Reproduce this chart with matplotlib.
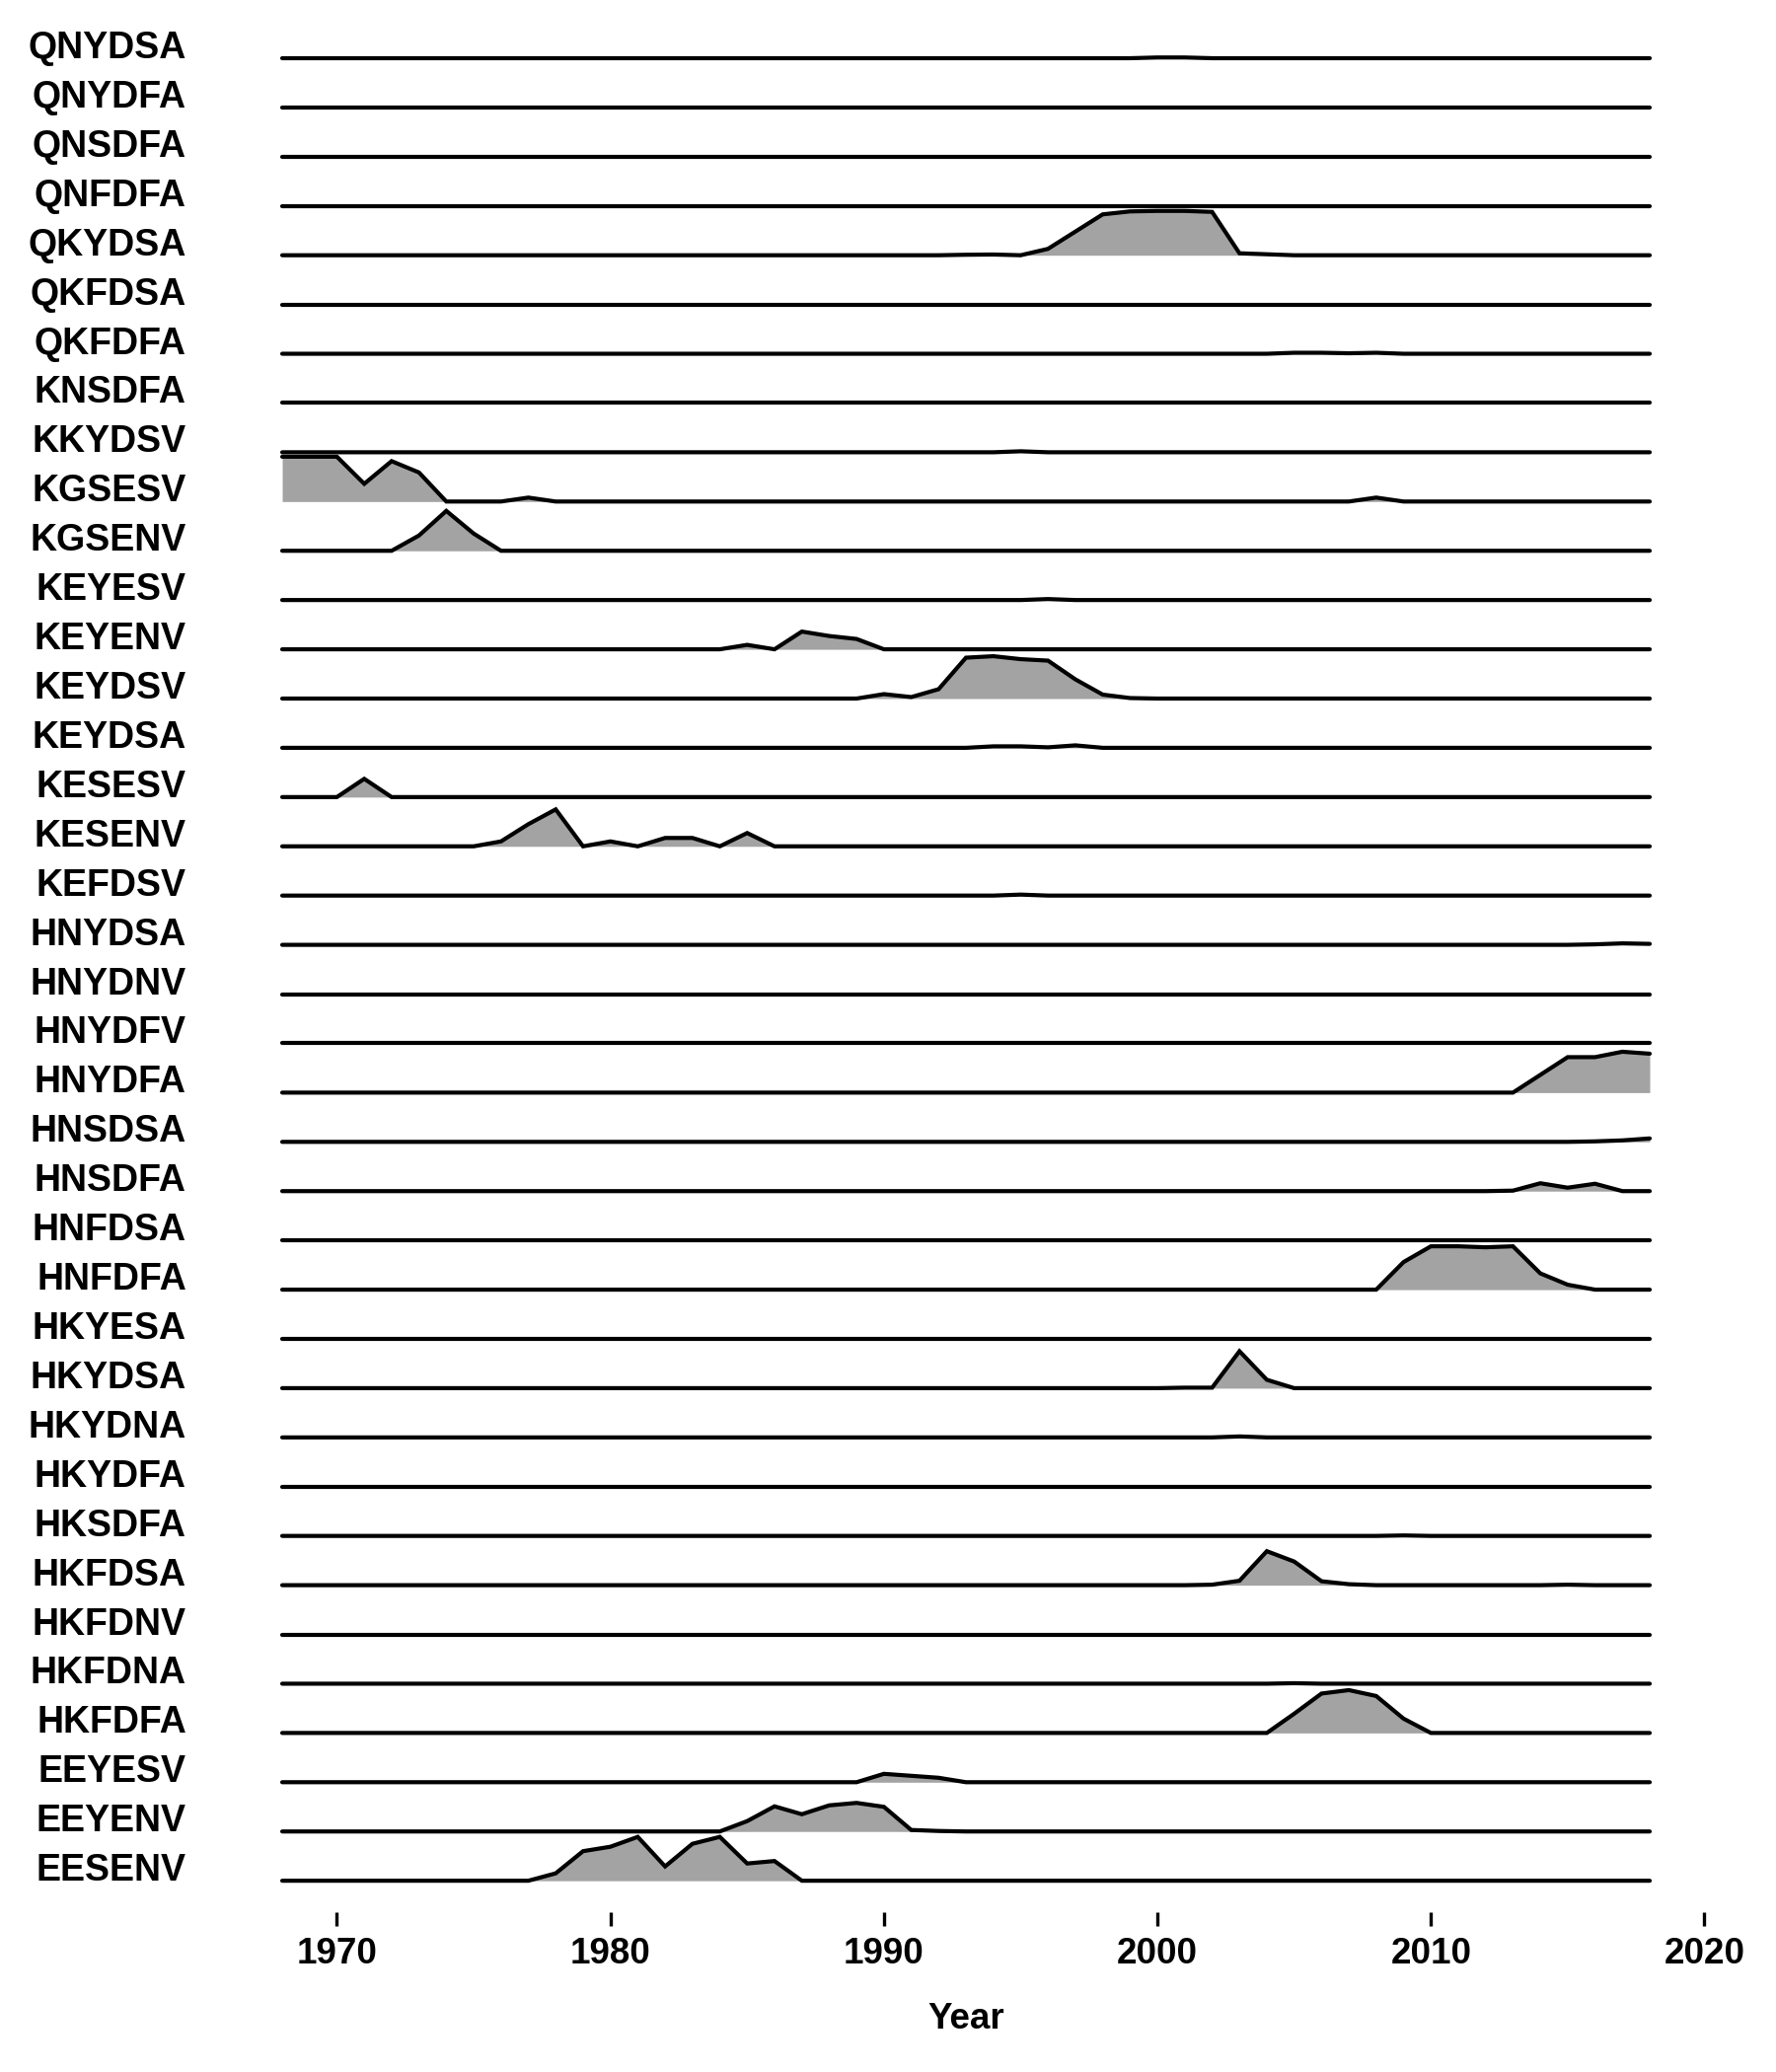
import matplotlib
matplotlib.use("Agg")
import matplotlib.pyplot as plt

plt.rcParams['font.family'] = ['Liberation Sans', 'DejaVu Sans']

years = list(range(1968, 2019))

# row labels, top to bottom
rows = ["QNYDSA", "QNYDFA", "QNSDFA", "QNFDFA", "QKYDSA", "QKFDSA", "QKFDFA",
        "KNSDFA", "KKYDSV", "KGSESV", "KGSENV", "KEYESV", "KEYENV", "KEYDSV",
        "KEYDSA", "KESESV", "KESENV", "KEFDSV", "HNYDSA", "HNYDNV", "HNYDFV",
        "HNYDFA", "HNSDSA", "HNSDFA", "HNFDSA", "HNFDFA", "HKYESA", "HKYDSA",
        "HKYDNA", "HKYDFA", "HKSDFA", "HKFDSA", "HKFDNV", "HKFDNA", "HKFDFA",
        "EEYESV", "EEYENV", "EESENV"]

# non-zero yearly heights (other years are 0)
bumps = [
    {2000: 0.015, 2001: 0.015},
    {},
    {},
    {},
    {1993: 0.01, 1994: 0.015, 1996: 0.13, 1997: 0.48, 1998: 0.83, 1999: 0.89,
     2000: 0.9, 2001: 0.9, 2002: 0.88, 2003: 0.04, 2004: 0.02},
    {},
    {2005: 0.02, 2006: 0.02, 2007: 0.01, 2008: 0.02},
    {},
    {1995: 0.02},
    {1968: 0.91, 1969: 0.91, 1970: 0.91, 1971: 0.36, 1972: 0.82, 1973: 0.59,
     1977: 0.08, 2008: 0.08},
    {1973: 0.31, 1974: 0.81, 1975: 0.35},
    {1996: 0.02},
    {1985: 0.09, 1987: 0.36, 1988: 0.27, 1989: 0.21},
    {1990: 0.09, 1991: 0.03, 1992: 0.19, 1993: 0.83, 1994: 0.86, 1995: 0.8,
     1996: 0.77, 1997: 0.39, 1998: 0.08, 1999: 0.01},
    {1994: 0.03, 1995: 0.03, 1996: 0.01, 1997: 0.05},
    {1971: 0.37},
    {1976: 0.1, 1977: 0.45, 1978: 0.75, 1980: 0.1, 1982: 0.17, 1983: 0.17,
     1985: 0.27},
    {1995: 0.02},
    {2016: 0.01, 2017: 0.03, 2018: 0.02},
    {},
    {},
    {2014: 0.36, 2015: 0.72, 2016: 0.72, 2017: 0.83, 2018: 0.79},
    {2016: 0.01, 2017: 0.03, 2018: 0.07},
    {2013: 0.01, 2014: 0.16, 2015: 0.07, 2016: 0.15},
    {},
    {2009: 0.56, 2010: 0.88, 2011: 0.88, 2012: 0.86, 2013: 0.88, 2014: 0.33,
     2015: 0.1},
    {},
    {2001: 0.01, 2002: 0.01, 2003: 0.75, 2004: 0.17},
    {2003: 0.02},
    {},
    {2009: 0.01},
    {2002: 0.01, 2003: 0.09, 2004: 0.69, 2005: 0.48, 2006: 0.08, 2007: 0.02,
     2015: 0.01},
    {},
    {2005: 0.01},
    {2005: 0.39, 2006: 0.8, 2007: 0.87, 2008: 0.75, 2009: 0.29},
    {1990: 0.17, 1991: 0.13, 1992: 0.09},
    {1985: 0.21, 1986: 0.51, 1987: 0.35, 1988: 0.53, 1989: 0.58, 1990: 0.5,
     1991: 0.03, 1992: 0.01},
    {1978: 0.15, 1979: 0.6, 1980: 0.69, 1981: 0.89, 1982: 0.29, 1983: 0.75,
     1984: 0.89, 1985: 0.35, 1986: 0.4},
]

fig = plt.figure(figsize=(18, 21), dpi=100)
ax = fig.add_axes([0.1204, 0.0771, 0.847, 0.9162])

n = len(rows)
for i, (name, b) in enumerate(zip(rows, bumps)):
    base = n - 1 - i
    vals = [base + b.get(y, 0) for y in years]
    ax.fill_between(years, base, vals, color="#a3a3a3", lw=0, zorder=2 * i + 1)
    ax.plot(years, vals, color="black", lw=3.0, solid_capstyle="round",
            solid_joinstyle="miter", zorder=2 * i + 2)

ax.set_xlim(1965.5, 2020.5)
ax.set_ylim(-0.64, n - 0.1)
ax.set_yticks([n - 1 - i for i in range(n)])
ax.set_yticklabels(rows, fontsize=27, fontweight="bold")
for lab in ax.get_yticklabels():
    lab.set_verticalalignment("baseline")
ax.tick_params(axis="y", length=0, pad=20)

ax.set_xticks([1970, 1980, 1990, 2000, 2010, 2020])
ax.tick_params(axis="x", length=10, width=2.4, pad=8, labelsize=26.5)
for lab in ax.get_xticklabels():
    lab.set_fontweight("bold")
ax.set_xlabel("Year", fontsize=26.5, fontweight="bold", labelpad=22)

for s in ax.spines.values():
    s.set_visible(False)

fig.savefig("out.png", dpi=100, facecolor="white")
